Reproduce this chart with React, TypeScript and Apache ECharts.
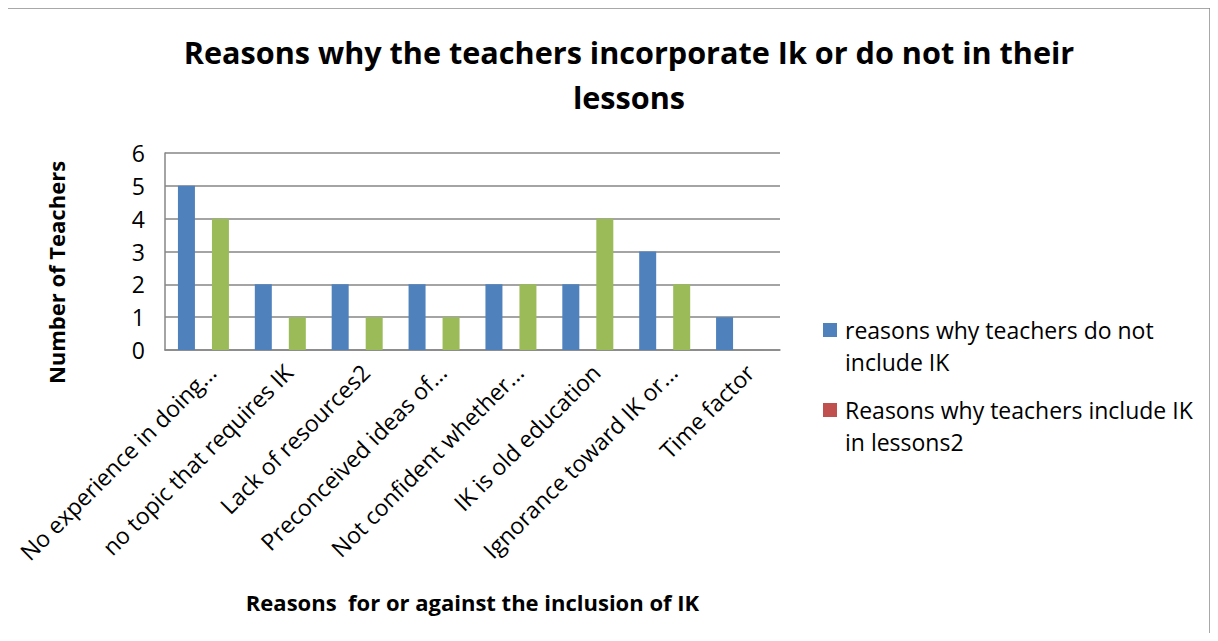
import React, { useEffect, useRef } from "react";
import * as echarts from "echarts";

const categories = [
  "No experience in doing...",
  "no topic that requires IK",
  "Lack of resources2",
  "Preconceived ideas of...",
  "Not confident whether...",
  "IK is old education",
  "Ignorance toward IK or...",
  "Time factor",
];
const notIncludeValues = [5, 2, 2, 2, 2, 2, 3, 1];
const includeValues = [4, 1, 1, 1, 2, 4, 2, 0];
const seriesNames = [
  "reasons why teachers do not include IK",
  "Reasons why teachers include IK in lessons2",
];
const legendLines: Record<string, string> = {
  "reasons why teachers do not include IK": "\nreasons why teachers do not\ninclude IK",
  "Reasons why teachers include IK in lessons2": "\nReasons why teachers include IK\nin lessons2",
};

const FONT = "'Open Sans', sans-serif";

export default function App() {
  const ref = useRef<HTMLDivElement>(null);
  useEffect(() => {
    if (!ref.current) return;
    const chart = echarts.init(ref.current, undefined, { renderer: "svg" });
    chart.setOption({
      animation: false,
      backgroundColor: "#ffffff",
      title: {
        text: "Reasons why the teachers incorporate Ik or do not in their\nlessons",
        left: 624,
        textAlign: "center",
        top: 24,
        textStyle: {
          fontFamily: FONT,
          fontWeight: "bold",
          fontSize: 30.6,
          lineHeight: 45,
          color: "#000",
        },
      },
      graphic: [
        {
          type: "rect",
          shape: { x: 7, y: 8, width: 1203, height: 640 },
          style: { fill: "none", stroke: "#8c8c8c", lineWidth: 1.5 },
          silent: true,
        },
      ],
      legend: {
        orient: "vertical",
        left: 823,
        top: 282,
        padding: 0,
        itemWidth: 14,
        itemHeight: 14,
        itemGap: -16,
        icon: "rect",
        data: [
          { name: seriesNames[0], itemStyle: { color: "#4F81BD" } },
          { name: seriesNames[1], itemStyle: { color: "#C0504D" } },
        ],
        formatter: (n: string) => legendLines[n] || n,
        textStyle: {
          fontFamily: FONT,
          fontSize: 23,
          lineHeight: 32,
          color: "#000",
          padding: [0, 0, 0, 3],
        },
      },
      grid: { left: 165, right: 438, top: 153, bottom: 291, containLabel: false },
      xAxis: {
        type: "category",
        data: categories,
        name: "Reasons  for or against the inclusion of IK",
        nameLocation: "middle",
        nameGap: 241,
        nameTextStyle: {
          fontFamily: FONT,
          fontWeight: "bold",
          fontSize: 22,
          color: "#000",
        },
        axisLine: { show: true, lineStyle: { color: "#868686", width: 1.5 } },
        axisTick: { show: false },
        axisLabel: {
          interval: 0,
          rotate: 45,
          margin: 10,
          verticalAlign: "top",
          fontFamily: FONT,
          fontSize: 23,
          color: "#000",
        },
      },
      yAxis: {
        type: "value",
        min: 0,
        max: 6,
        interval: 1,
        name: "Number of Teachers",
        nameLocation: "middle",
        nameGap: 98,
        nameTextStyle: {
          fontFamily: FONT,
          fontWeight: "bold",
          fontSize: 22,
          color: "#000",
          padding: [0, 42, 0, 0],
        },
        axisLine: { show: true, lineStyle: { color: "#868686", width: 1.5 } },
        axisTick: { show: false },
        axisLabel: {
          fontFamily: FONT,
          fontSize: 23,
          color: "#000",
          margin: 20,
        },
        splitLine: { lineStyle: { color: "#868686", width: 1.5 } },
      },
      series: [
        {
          name: seriesNames[0],
          type: "bar",
          data: notIncludeValues,
          itemStyle: { color: "#4F81BD" },
          barWidth: 17,
          barGap: "100%",
        },
        {
          name: seriesNames[1],
          type: "bar",
          data: includeValues.map((v) => ({ value: v, itemStyle: { color: "#9BBB59" } })),
          itemStyle: { color: "#C0504D" },
          barWidth: 17,
          barGap: "100%",
        },
      ],
    });
    return () => chart.dispose();
  }, []);
  return <div ref={ref} style={{ width: 1218, height: 641, margin: -8 }} />;
}
